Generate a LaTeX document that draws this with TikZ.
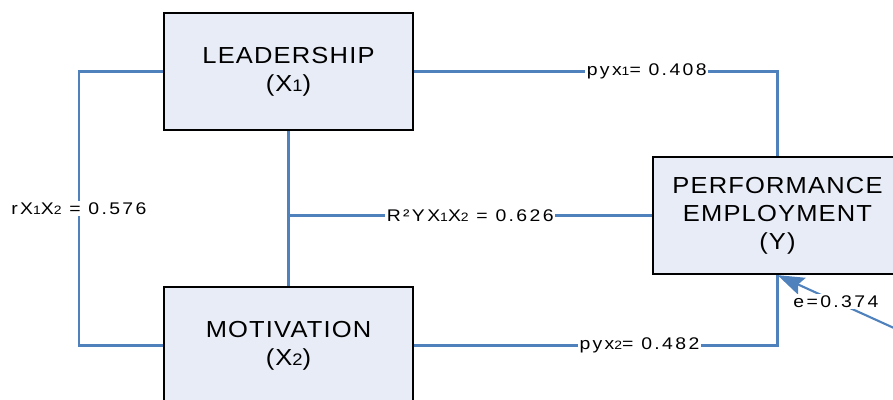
\documentclass[tikz,border=0pt]{standalone}
\usepackage{fontspec}
\setmainfont{Liberation Sans}
\newfontfamily\boxfont[FakeStretch=1.1, LetterSpace=5]{Liberation Sans}
\newfontfamily\lblfont[FakeStretch=1.15, LetterSpace=14]{Liberation Sans}
\usepackage{graphicx}
\usetikzlibrary{arrows.meta,positioning}
\definecolor{linkblue}{RGB}{79,129,189}
\definecolor{varfill}{RGB}{231,236,246}
\newcommand{\sd}[1]{\scalebox{0.72}{#1}}

\begin{document}
\begin{tikzpicture}[x=0.025cm, y=-0.025cm,
  var/.style={draw=black, line width=1.6pt, fill=varfill, minimum width=6.225cm, minimum height=2.925cm, align=center, font=\boxfont\fontsize{16.5}{20}\selectfont},
  link/.style={draw=linkblue, line width=1.5pt},
  coef/.style={fill=white, inner sep=1pt, text=black, font=\lblfont\fontsize{12}{13}\selectfont}]
\clip (0,0) rectangle (893,400);
% Variables
\node[var] (lead) at (288.5,71.5) {LEADERSHIP\\(X\sd{1})};
\node[var] (moti) at (288.5,345.5) {MOTIVATION\\(X\sd{2})};
\node[var] (perf) at (777.5,215.5) {PERFORMANCE\\EMPLOYMENT\\(Y)};
\coordinate (eres) at (960,358);
% Correlation X1 - X2
\draw[link] (lead.west) -- ++(-84,0) |- node[coef, pos=0.25] {rX\sd{1}X\sd{2} = 0.576} (moti.west);
% Joint effect
\draw[link] (lead.south) -- (moti.north);
\draw[link] (lead.south |- perf.west) -- node[coef] {R²YX\sd{1}X\sd{2} = 0.626} (perf.west);
% Paths to Y
\draw[link] (lead.east) -| node[coef, pos=0.32] {pyx\sd{1}= 0.408} (perf.north);
\draw[link] (moti.east) -| node[coef, pos=0.31] {pyx\sd{2}= 0.482} (perf.south);
% Residual
\draw[link, -{Stealth[length=19pt, width=13pt, inset=3pt]}, fill=linkblue] (eres) -- node[coef, pos=0.68] {e=0.374} (perf.south);
\end{tikzpicture}
\end{document}
